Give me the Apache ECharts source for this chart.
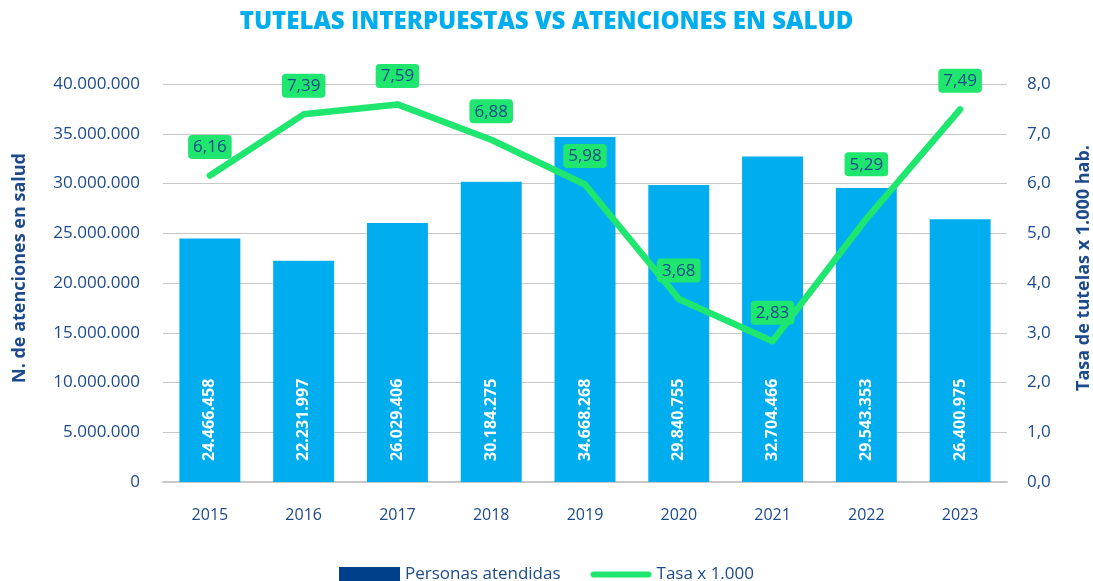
<!DOCTYPE html>
<html>
<head>
<meta charset="utf-8">
<style>
  html, body { margin: 0; padding: 0; background: #fff; }
  #chart { width: 1093px; height: 581px; }
</style>
<script src="https://cdn.jsdelivr.net/npm/echarts@6/dist/echarts.min.js"></script>
</head>
<body>
<div id="chart"></div>
<script>
const years = ['2015', '2016', '2017', '2018', '2019', '2020', '2021', '2022', '2023'];
const personasAtendidas = [24466458, 22231997, 26029406, 30184275, 34668268, 29840755, 32704466, 29543353, 26400975];
const tasaPorMil = [6.16, 7.39, 7.59, 6.88, 5.98, 3.68, 2.83, 5.29, 7.49];

const navy = '#1c4a8c';
const barBlue = '#00aeef';
const green = '#1ee66f';
const font = 'Open Sans';

// thousands with dots, decimals with comma
const fmtInt = v => String(Math.round(v)).replace(/\B(?=(\d{3})+(?!\d))/g, '.');
const fmtDec = (v, d) => v.toFixed(d).replace('.', ',');

// axis titles sit a little above the plot's middle
const axisNameStyle = {
    color: navy,
    fontSize: 18,
    fontWeight: 'bold',
    fontFamily: font,
    padding: [0, 0, 0, 30],
};

const chart = echarts.init(document.getElementById('chart'));
chart.setOption({
    animation: false,
    textStyle: { fontFamily: font },
    title: {
        text: 'TUTELAS INTERPUESTAS VS ATENCIONES EN SALUD',
        left: 'center',
        top: 5,
        textStyle: { color: barBlue, fontSize: 24, fontWeight: 800, fontFamily: font },
    },
    grid: { left: 163, right: 86, top: 84, bottom: 99, outerBoundsMode: 'none' },
    legend: {
        top: 561,
        left: 'center',
        itemWidth: 61,
        itemHeight: 15,
        itemGap: 30,
        textStyle: { color: navy, fontSize: 17, fontFamily: font },
        data: [
            { name: 'Personas atendidas', icon: 'rect', itemStyle: { color: '#003f8a' } },
            {
                name: 'Tasa x 1.000',
                icon: 'path://M3,0 H57 A3,3 0 0 1 57,6 H3 A3,3 0 0 1 3,0 Z',
                itemStyle: { color: green },
            },
        ],
    },
    xAxis: {
        type: 'category',
        data: years,
        axisLine: { show: true, lineStyle: { color: '#c8c8c8', width: 2 } },
        axisTick: { show: false },
        axisLabel: { color: navy, fontSize: 16, margin: 25 },
    },
    yAxis: [
        {
            type: 'value',
            min: 0,
            max: 40000000,
            interval: 5000000,
            name: 'N. de atenciones en salud',
            nameLocation: 'middle',
            nameGap: 134,
            nameTextStyle: axisNameStyle,
            axisLine: { show: false },
            axisTick: { show: false },
            axisLabel: { color: navy, fontSize: 17, margin: 23, formatter: v => fmtInt(v) },
            splitLine: { lineStyle: { color: '#c8c8c8', width: 1 } },
        },
        {
            type: 'value',
            min: 0,
            max: 8,
            interval: 1,
            name: 'Tasa de tutelas x 1.000 hab.',
            nameLocation: 'middle',
            nameGap: 68,
            nameTextStyle: axisNameStyle,
            axisLine: { show: false },
            axisTick: { show: false },
            axisLabel: { color: navy, fontSize: 17, margin: 20, formatter: v => fmtDec(v, 1) },
            splitLine: { show: false },
        },
    ],
    series: [
        {
            name: 'Personas atendidas',
            type: 'bar',
            yAxisIndex: 0,
            barWidth: '65%',
            itemStyle: { color: barBlue },
            label: {
                show: true,
                position: 'insideBottom',
                rotate: 90,
                align: 'left',
                verticalAlign: 'middle',
                distance: 21,
                color: '#fff',
                fontSize: 16,
                fontWeight: 'bold',
                fontFamily: font,
                formatter: p => fmtInt(p.value),
            },
            data: personasAtendidas,
        },
        {
            name: 'Tasa x 1.000',
            type: 'line',
            yAxisIndex: 1,
            symbol: 'circle',
            symbolSize: 1,
            showSymbol: true,
            lineStyle: { color: green, width: 6.5, cap: 'round', join: 'round' },
            itemStyle: { color: green },
            z: 3,
            label: {
                show: true,
                position: 'top',
                distance: 16,
                color: navy,
                fontSize: 17,
                fontFamily: font,
                backgroundColor: green,
                borderRadius: 4,
                padding: [4, 5, 3, 5],
                formatter: p => fmtDec(p.value, 2),
            },
            data: tasaPorMil.map((v, i) => {
                if (i === 7) return { value: v, label: { offset: [0, -26] } };
                return v;
            }),
        },
    ],
});
</script>
</body>
</html>
